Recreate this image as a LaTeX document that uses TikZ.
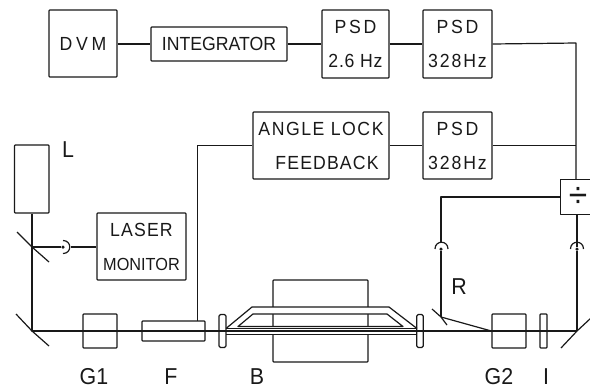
\documentclass[tikz,border=0pt]{standalone}
\usepackage{fontspec}
\setmainfont[FakeStretch=0.93]{Liberation Sans}
\newcommand{\lsp}[1]{\addfontfeature{LetterSpace=#1}}
\tikzset{
  ln/.style={line width=1.2pt, line join=round, black!90},
  bx/.style={ln, draw, rounded corners=0.8pt, inner sep=0pt, align=center, font=\fontsize{19}{34}\selectfont, text=black!90},
  lab/.style={inner sep=0pt, anchor=base, font=\fontsize{23}{23}\selectfont, text=black!90},
  dotc/.style={circle, fill=black!90, inner sep=0pt, minimum size=3.5pt},
}
\begin{document}
\begin{tikzpicture}[x=1pt,y=-1pt]
\useasboundingbox (0,0) rectangle (590,389);
% magnet, drawn first so that the tube wall hides it
\node[bx, minimum width=95pt, minimum height=82pt] (mag) at (320.5,321) {};
\coordinate (t1) at (226,328.5);
\coordinate (t2) at (252,307);
\coordinate (t3) at (389,307);
\coordinate (t4) at (417,328.5);
\coordinate (t5) at (226,334.5);
\coordinate (t6) at (417,334.5);
\coordinate (u1) at (238,326.5);
\coordinate (u2) at (253,314);
\coordinate (u3) at (387,314);
\coordinate (u4) at (403,326.5);
\fill[white, even odd rule] (t1) -- (t2) -- (t3) -- (t4) -- (t6) -- (t5) -- cycle (u1) -- (u2) -- (u3) -- (u4) -- cycle;
% upper row
\node[bx, minimum width=68pt, minimum height=67pt] (dvm) at (83,43.5) {\lsp{20}DVM};
\node[bx, minimum width=136pt, minimum height=34pt] (int) at (219,44) {INTEGRATOR};
\node[bx, minimum width=67pt, minimum height=68pt] (psda) at (355.5,44) {{\lsp{14}PSD}\\{\lsp{4}2.6 Hz}};
\node[bx, minimum width=69pt, minimum height=68pt] (psdb) at (457.5,44) {{\lsp{14}PSD}\\{\lsp{10}328Hz}};
% middle row
\node[bx, minimum width=136pt, minimum height=67pt] (ang) at (321,145.5) {{\lsp{8}ANGLE LOCK}\\\hspace*{12pt}{\lsp{6}FEEDBACK}};
\node[bx, minimum width=69pt, minimum height=67pt] (psdc) at (457.5,145.5) {{\lsp{14}PSD}\\{\lsp{10}328Hz}};
% divider
\node[minimum width=29pt, minimum height=34pt, inner sep=0pt, font=\fontsize{36}{36}\selectfont, text=black!90] (div) at (575.5,197) {\hspace*{5pt}÷};
\draw[ln] (div.north east) -- (div.north west) -- (div.south west) -- (div.south east);
% laser and monitor
\node[bx, minimum width=34.5pt, minimum height=68pt] (laser) at (31.75,179) {};
\node[bx, minimum width=89pt, minimum height=67pt] (mon) at (141.5,246.5) {{\lsp{6}LASER}\\{\fontsize{17.5}{34}\selectfont MONITOR}};
% optics
\node[bx, minimum width=34pt, minimum height=34pt] (g1) at (100,331) {};
\node[bx, minimum width=63pt, minimum height=20pt] (f) at (173.5,331) {};
\node[bx, rounded corners=1.5pt, minimum width=7pt, minimum height=33pt] (wl) at (222.5,331) {};
\node[bx, rounded corners=1.5pt, minimum width=6.5pt, minimum height=33pt] (wr) at (420,331) {};
\node[bx, minimum width=34pt, minimum height=34pt] (g2) at (509,331) {};
\node[bx, minimum width=7pt, minimum height=34pt] (iris) at (543.5,331) {};
% coordinates
\coordinate (m1) at (32,247);
\coordinate (m2) at (32,331);
\coordinate (m3) at (577,331);
\coordinate (mr) at (441,317);
\coordinate (fup) at (197.5,321);
\node[dotc] (dl) at (63,247) {};
\node[dotc] (dr) at (441,249) {};
\node[dotc] (dm) at (577,249) {};
\coordinate (top) at (576,43);
\coordinate (midr) at (576,145.5);
% mirrors
\draw[ln] (17,232) -- (m1) -- (49,262);
\draw[ln] (16,314) -- (m2) -- (49,346);
\draw[ln] (432,309) -- (mr) -- (447,325);
\draw[ln] (561,348) -- (m3) -- (591,318);
% beam paths
\draw[ln] (laser.south -| m1) -- (m1) -- (m2) -- (m3);
\draw[ln] (m1) -- (dl);
\draw[ln] (dl.center) ++(8,0) coordinate (dlr) -- (mon.west |- dl);
\draw[ln] (63,240.5) .. controls (72,240.5) and (72,253.5) .. (63,253.5);
\draw[ln] (435,249) .. controls (435,240) and (448,240) .. (448,249);
\draw[ln] (570.5,249) .. controls (570.5,240) and (583.5,240) .. (583.5,249);
\draw[ln] (mr) -- (g2.west |- m3);
\draw[ln] (dr) -- (mr);
\draw[ln] (dm) -- (m3);
\draw[ln] (div.south -| dm) -- (dm);
\draw[ln] (441,242) |- (div.west);
% connectors
\draw[ln] (dvm.east |- int.west) -- (int.west);
\draw[ln] (int.east) -- (psda.west);
\draw[ln] (psda.east) -- (psdb.west);
\draw[ln] (psdb.east) -- (top) -- (div.north -| top);
\draw[ln] (ang.east) -- (psdc.west);
\draw[ln] (psdc.east) -- (midr);
\draw[ln] (fup) |- (ang.west);
% absorption tube
\draw[ln] (t1) -- (t2) -- (t3) -- (t4);
\draw[ln] (t1) -- (t4);
\draw[ln] (t5) -- (t6);
\draw[ln] (u1) -- (u2) -- (u3) -- (u4) -- cycle;
% labels
\node[lab] (lL) at (68,157) {L};
\node[lab] (lR) at (459,294) {R};
\node[lab] (lG1) at (94,384) {G1};
\node[lab] (lF) at (171,384) {F};
\node[lab] (lB) at (257,384) {B};
\node[lab] (lG2) at (499,384) {G2};
\node[lab] (lI) at (546,384) {I};
\end{tikzpicture}
\end{document}
